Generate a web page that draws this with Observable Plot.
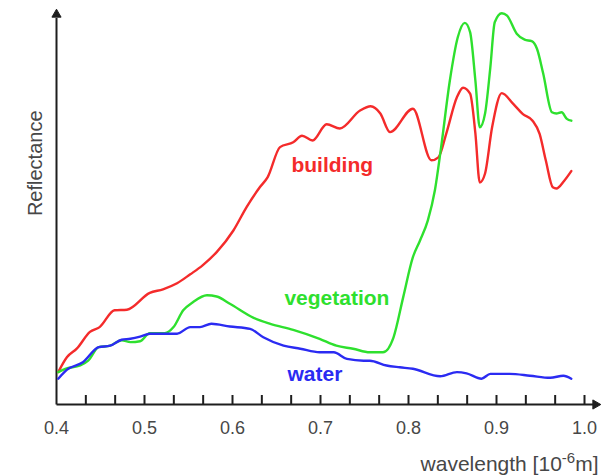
<!DOCTYPE html>
<html>
<head>
<meta charset="utf-8">
<script src="https://cdn.jsdelivr.net/npm/d3@7"></script>
<script src="https://cdn.jsdelivr.net/npm/@observablehq/plot@0.6"></script>
<style>
  html, body { margin: 0; padding: 0; background: #fff; }
  #chart svg { display: block; }
</style>
</head>
<body>
<div id="chart"></div>
<script>
// Spectral reflectance curves (wavelength in µm, reflectance in %)
const buildingWl  = [0.402,0.412,0.423,0.438,0.449,0.466,0.480,0.506,0.521,0.537,0.552,0.566,0.582,0.601,0.616,0.631,0.640,0.654,0.669,0.679,0.691,0.707,0.722,0.745,0.757,0.768,0.779,0.805,0.826,0.834,0.843,0.855,0.862,0.870,0.876,0.881,0.887,0.895,0.906,0.919,0.930,0.941,0.949,0.956,0.964,0.968,0.977,0.985];
const buildingRef = [5.4,7.9,9.3,12.1,12.9,15.7,15.8,18.6,19.2,20.2,21.7,23.2,25.4,29.0,32.9,36.2,37.9,42.9,43.7,44.8,44.0,46.7,46.0,49.0,49.7,48.5,45.4,49.3,40.7,41.2,45.2,51.2,52.8,51.8,45.2,37.0,38.5,46.2,51.9,50.1,48.4,47.3,45.1,40.7,36.2,36.0,37.3,38.9];

const vegetationWl  = [0.402,0.410,0.427,0.436,0.448,0.461,0.474,0.484,0.495,0.506,0.523,0.533,0.544,0.555,0.571,0.582,0.597,0.624,0.643,0.669,0.699,0.718,0.737,0.756,0.771,0.783,0.794,0.805,0.813,0.822,0.830,0.837,0.847,0.856,0.864,0.870,0.876,0.881,0.887,0.893,0.898,0.906,0.912,0.923,0.932,0.940,0.946,0.953,0.963,0.968,0.974,0.980,0.985];
const vegetationRef = [5.4,5.95,6.5,7.3,9.55,9.8,10.7,10.4,10.55,11.9,11.9,12.9,15.7,17.05,18.2,18.0,16.8,14.45,13.45,12.45,10.95,9.8,9.3,8.7,8.7,11.2,17.9,24.55,27.3,30.7,35.7,42.8,54.0,61.2,63.6,62.05,54.0,46.2,48.5,56.2,63.7,65.2,64.8,61.8,60.8,60.55,59.3,55.2,48.7,48.5,48.7,47.6,47.3];

const waterWl  = [0.402,0.412,0.430,0.448,0.461,0.474,0.484,0.495,0.506,0.537,0.552,0.563,0.576,0.597,0.620,0.635,0.658,0.677,0.699,0.715,0.730,0.749,0.756,0.775,0.790,0.805,0.836,0.855,0.866,0.883,0.893,0.915,0.938,0.961,0.976,0.985];
const waterRef = [4.3,5.8,7.05,9.55,9.8,10.8,10.95,11.3,11.8,11.8,12.9,12.9,13.45,13.0,12.6,11.2,9.8,9.3,8.7,8.7,7.6,7.3,7.3,6.5,6.2,5.95,4.7,5.4,5.2,4.3,5.1,5.1,4.8,4.45,4.8,4.3];

const materials = ["building", "vegetation", "water"];
const lineColors = ["#f42b2b", "#2ee02e", "#2b2bf2"];
const labelWl  = [0.6670, 0.6590, 0.6625];
const labelRef = [39.9, 17.7, 5.1];

const xTickLabels = [0.4, 0.5, 0.6, 0.7, 0.8, 0.9, 1.0];
const minorTicks = d3.range(1, 19).map(k => 0.4 + k / 30);

const series = [
  {name: "building", wl: buildingWl, ref: buildingRef},
  {name: "vegetation", wl: vegetationWl, ref: vegetationRef},
  {name: "water", wl: waterWl, ref: waterRef}
];
const rows = series.flatMap(s => s.wl.map((w, i) => ({material: s.name, wl: w, ref: s.ref[i]})));
const labels = materials.map((m, i) => ({material: m, wl: labelWl[i], ref: labelRef[i]}));

const xDomain = [0.4, 1.0];
const yDomain = [0, 64];
const axisColor = "#1e1e1e";
const textColor = "#474747";
const font = "'Liberation Sans', Arial, Helvetica, sans-serif";

const chart = Plot.plot({
  width: 612,
  height: 476,
  marginLeft: 56,
  marginRight: 28,
  marginTop: 20,
  marginBottom: 72,
  x: {domain: xDomain, axis: null},
  y: {domain: yDomain, axis: null},
  color: {domain: materials, range: lineColors},
  style: {fontFamily: font, background: "#fff"},
  marks: [
    // axis lines with arrowheads
    Plot.link([0], {x1: xDomain[0], y1: 0, x2: 1.011, y2: 0, stroke: axisColor, strokeWidth: 2}),
    Plot.link([0], {x1: xDomain[0], y1: 0, x2: xDomain[0], y2: 64.4, stroke: axisColor, strokeWidth: 2}),
    Plot.dot([0], {x: 1.0125, y: 0, symbol: "triangle", r: 3.4, rotate: 90, fill: axisColor, stroke: axisColor, strokeWidth: 1}),
    Plot.dot([0], {x: xDomain[0], y: 65.0, symbol: "triangle", r: 3.4, fill: axisColor, stroke: axisColor, strokeWidth: 1}),
    // small inward ticks along the wavelength axis
    Plot.ruleX(minorTicks, {x: d => d, y1: 0, y2: 1.5, stroke: axisColor, strokeWidth: 2}),
    // tick labels
    Plot.text(xTickLabels, {x: d => d, y: 0, text: d => d.toFixed(1), dy: 24, fontSize: 18, fill: textColor}),
    // spectral curves
    Plot.line(rows, {x: "wl", y: "ref", z: "material", stroke: "material", strokeWidth: 2.4, curve: "monotone-x"}),
    // series labels
    Plot.text(labels, {x: "wl", y: "ref", text: "material", fill: "material", textAnchor: "start", fontSize: 21, fontWeight: "bold"}),
    // axis titles
    Plot.text(["Reflectance"], {x: 0.376, y: 40.2, rotate: -90, fontSize: 20, fill: textColor}),
    Plot.text(["wavelength"], {frameAnchor: "bottom-right", dx: 14, dy: 66, textAnchor: "end", fontSize: 21, fill: textColor})
  ]
});

// x-axis title with a superscript exponent
const titleNode = Array.from(chart.querySelectorAll("text")).find(t => t.textContent === "wavelength");
if (titleNode) {
  titleNode.textContent = "";
  const ns = "http://www.w3.org/2000/svg";
  const parts = [["wavelength [10", null], ["-6", "sup"], ["m]", "back"]];
  for (const [txt, kind] of parts) {
    const ts = document.createElementNS(ns, "tspan");
    ts.textContent = txt;
    if (kind === "sup") { ts.setAttribute("dy", "-8"); ts.setAttribute("font-size", "15"); }
    if (kind === "back") { ts.setAttribute("dy", "8"); }
    titleNode.appendChild(ts);
  }
}

document.getElementById("chart").appendChild(chart);
</script>
</body>
</html>
